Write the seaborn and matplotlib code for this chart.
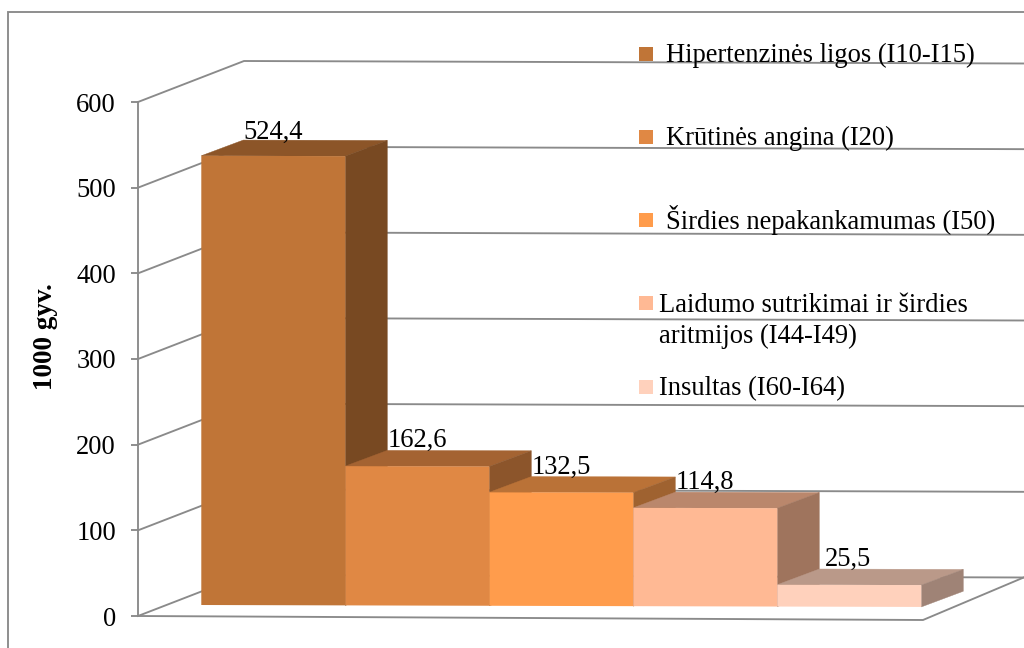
import matplotlib
matplotlib.use("Agg")
import numpy as np
import pandas as pd
import seaborn as sns
import matplotlib.pyplot as plt
from matplotlib.colors import to_rgb
from matplotlib.lines import Line2D
from matplotlib.patches import Polygon, Rectangle
from matplotlib.transforms import Affine2D, IdentityTransform

# ---------- data ----------
categories = ["Hipertenzinės ligos (I10-I15)", "Krūtinės angina (I20)",
              "Širdies nepakankamumas (I50)",
              "Laidumo sutrikimai ir širdies\naritmijos (I44-I49)",
              "Insultas (I60-I64)"]
values = [524.4, 162.6, 132.5, 114.8, 25.5]
value_labels = ["524,4", "162,6", "132,5", "114,8", "25,5"]
y_ticks = [0, 100, 200, 300, 400, 500, 600]
y_title = "1000 gyv."

# ---------- style ----------
colors = ["#C07537", "#E08844", "#FF9C4C", "#FFB994", "#FFD1BC"]
TOP_F, SIDE_F = 0.73, 0.625
GRAY = "#8A8A8A"
LW = 1.35
W, H = 1024, 648
FONT = "Liberation Serif"
FS = 19.1

sns.set_theme(style="white")
plt.rcParams["font.family"] = [FONT, "DejaVu Serif"]

fig = plt.figure(figsize=(W / 100, H / 100), dpi=100, facecolor="white")
# plot frame in px: front wall axis at x=138, y(0)=616, y(600)=102, bars 202..922
ax = fig.add_axes([138 / W, (H - 616) / H, (923 - 138) / W, 514 / H])
ax.patch.set_alpha(0)

df = pd.DataFrame({"cat": categories, "val": values})
sns.barplot(data=df, x="cat", y="val", hue="cat", palette=colors, hue_order=categories,
            order=categories, width=1.0, saturation=1, legend=False, ax=ax,
            edgecolor="none", linewidth=0)
ax.set_xlim(-0.5 - (202 - 138) / 144, 4.5 + 1 / 144)
ax.set_ylim(0, 600)
ax.set_xticks([])
ax.set_xlabel("")
ax.set_yticks(y_ticks)
ax.tick_params(axis="y", left=True, length=5, width=LW, color=GRAY, pad=10.8,
               labelsize=FS, labelcolor="black")
for lab in ax.get_yticklabels():
    lab.set_fontfamily(FONT)
for s in ["top", "right", "bottom"]:
    ax.spines[s].set_visible(False)
ax.spines["left"].set_color(GRAY)
ax.spines["left"].set_linewidth(LW)
ax.set_ylabel(y_title, fontsize=19.5, fontweight="bold", fontfamily=FONT, color="black")
ax.yaxis.set_label_coords((58 - 138) / (923 - 138), (616 - 337) / 514)

fig.canvas.draw()
ID = IdentityTransform()


def px(x, y):
    return (x, H - y)


def line(points, **kw):
    xs, ys = zip(*[px(*p) for p in points])
    ln = Line2D(xs, ys, transform=ID, color=GRAY, lw=LW, zorder=0.5, clip_on=False,
                solid_capstyle="projecting", solid_joinstyle="miter", **kw)
    ax.add_artist(ln)


# outer chart frame
line([(8, H + 2), (8, 12), (W + 2, 12)])

# walls, floor and gridlines
BACK_DX, BACK_DY = 106, 41
for t in y_ticks:
    y0 = ax.transData.transform((0, t))[1]
    yp = H - y0
    line([(138, yp), (138 + BACK_DX, yp - BACK_DY), (W + 2, yp - BACK_DY + 2.5)])
y_floor = H - ax.transData.transform((0, 0))[1]
line([(138, y_floor), (923, y_floor + 4), (W + 2, y_floor - 39.5)])

# bars: front plane is shifted back by a small offset and very slightly tilted
TILT = 0.0027
front = (ax.transData + Affine2D().translate(-0.7, 11)
         + Affine2D.from_values(1, -TILT, 0, 1, 0, TILT * 202))
DEPTH = np.array([42.0, 15.7])


def face(pts, colour, z):
    ax.add_patch(Polygon(pts, closed=True, transform=ID, facecolor=colour, edgecolor=colour,
                         lw=0.3, zorder=z, clip_on=False))


nudge_x = [0, 0, 0, 0, 6]
nudge_y = [1, 3, 3, 3, 3]
bars = [c[0] for c in ax.containers]
for i, (bar, v, c) in enumerate(zip(bars, values, colors)):
    bar.set_transform(front)
    bar.set_clip_on(False)
    bar.set_zorder(3 + i * 0.1)
    x0, x1 = bar.get_x(), bar.get_x() + bar.get_width()
    fl, tl, tr, fr = [front.transform(p) for p in [(x0, 0), (x0, v), (x1, v), (x1, 0)]]
    rgb = np.array(to_rgb(c))
    face([tl, tr, tr + DEPTH, tl + DEPTH], rgb * TOP_F, 2 + i * 0.1)
    face([fr, tr, tr + DEPTH, fr + DEPTH], rgb * SIDE_F, 2 + i * 0.1)
    lx, ly = tl + DEPTH
    ax.text(lx + nudge_x[i], ly + nudge_y[i], value_labels[i], transform=ID, fontsize=FS,
            fontfamily=FONT, color="black", ha="left", va="baseline", zorder=6, clip_on=False)

# legend (hand-placed as in the reference)
legend_swatch_y = [47, 130, 213, 296, 380]
legend_text_x = [666, 666, 666, 659, 659]
legend_text_y = [61.5, 145, 229, 312, 395]
for name, c, sy, tx, ty in zip(categories, colors, legend_swatch_y, legend_text_x, legend_text_y):
    sx, s_y = px(639, sy + 14)
    fig.add_artist(Rectangle((sx, s_y), 14, 14, transform=ID, facecolor=c, edgecolor="none", zorder=6))
    for k, part in enumerate(name.split("\n")):
        lx, ly = px(tx, ty + k * 31)
        fig.text(lx, ly, part, transform=ID, fontsize=FS, fontfamily=FONT, color="black",
                 ha="left", va="baseline", zorder=6)

fig.savefig("out.png", dpi=100, facecolor="white")
